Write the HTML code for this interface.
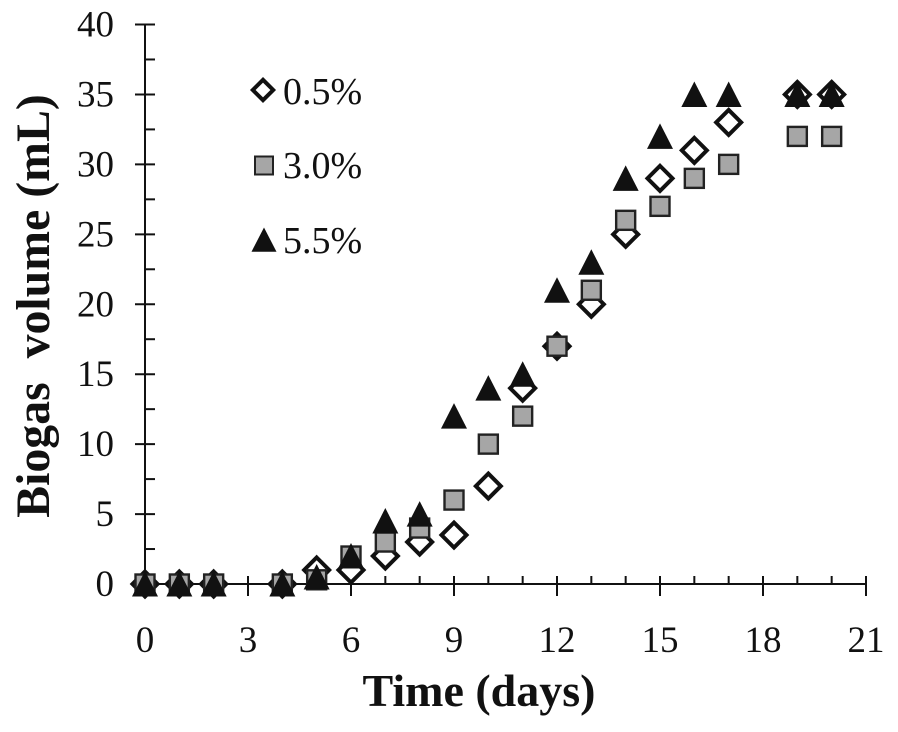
<!DOCTYPE html>
<html>
<head>
<meta charset="utf-8">
<style>
html,body{margin:0;padding:0;background:#fff;width:898px;height:732px;overflow:hidden}
svg{display:block}
text{font-family:"Liberation Serif",serif;fill:#111}
.tick{font-size:37px}
.xtitle{font-size:46px;font-weight:bold}
.ytitle{font-size:47.8px;font-weight:bold}
.leg{font-size:38px}
</style>
</head>
<body>
<svg id="chart" width="898" height="732" viewBox="0 0 898 732" xmlns="http://www.w3.org/2000/svg">
<g id="axes"></g>
<g id="marks"></g>
<text class="xtitle" x="479" y="706" text-anchor="middle">Time (days)</text>
<text class="ytitle" transform="translate(49,306) rotate(-90)" text-anchor="middle" xml:space="preserve">Biogas  volume (mL)</text>
<g>
<g>
<polygon points="263,79.8 273.2,90 263,100.2 252.8,90" fill="#fff" stroke="#111" stroke-width="4"/>
<text class="leg" x="283" y="104">0.5%</text>
</g>
<g>
<rect x="255" y="156.5" width="18" height="18" fill="#a6a6a6" stroke="#222" stroke-width="2"/>
<text class="leg" x="283" y="178">3.0%</text>
</g>
<g>
<polygon points="264,227.5 276.5,251.7 251.5,251.7" fill="#111"/>
<text class="leg" x="283" y="253">5.5%</text>
</g>
</g>
</svg>
<script>
const days = [0,1,2,4,5,6,7,8,9,10,11,12,13,14,15,16,17,19,20];
const series05 = [0,0,0,0,1,1,2,3,3.5,7,14,17,20,25,29,31,33,35,35];
const series30 = [0,0,0,0,0.3,2,3,4,6,10,12,17,21,26,27,29,30,32,32];
const series55 = [0,0,0,0,0.5,2,4.5,5,12,14,15,21,23,29,32,35,35,35,35];
const xTickLabels = [0,3,6,9,12,15,18,21];
const yTickLabels = [0,5,10,15,20,25,30,35,40];

const NS = 'http://www.w3.org/2000/svg';
const INK = '#111';
function xs(v){ return 145 + v * (866 - 145) / 21; }
function ys(v){ return 584 - v * (584 - 24.5) / 40; }
function make(parent, tag, attrs){
  const el = document.createElementNS(NS, tag);
  for (const k in attrs) el.setAttribute(k, attrs[k]);
  parent.appendChild(el);
  return el;
}
const axes = document.getElementById('axes');
const marks = document.getElementById('marks');

const xAxisLine = make(axes, 'line', {x1:xs(0), x2:xs(21), y1:ys(0), y2:ys(0), stroke:INK, 'stroke-width':2});


const yAxisLine = make(axes, 'line', {x1:xs(0), x2:xs(0), y1:ys(0), y2:ys(40), stroke:INK, 'stroke-width':2});



for (let d = 0; d <= 21; d++) {
  if (d % 3 === 0) continue;
  const t = make(axes, 'line', {x1:xs(d), x2:xs(d), y1:ys(0)-8, y2:ys(0), stroke:INK, 'stroke-width':2});
  
  
}
xTickLabels.forEach(function(v){
  const t = make(axes, 'line', {x1:xs(v), x2:xs(v), y1:ys(0)-8, y2:ys(0)+12, stroke:INK, 'stroke-width':2});
  
  
  const l = make(axes, 'text', {x:xs(v), y:652, 'text-anchor':'middle', class:'tick'});
  l.textContent = v;
  
  
});
yTickLabels.forEach(function(v){
  const t = make(axes, 'line', {x1:xs(0)-10, x2:xs(0)+10, y1:ys(v), y2:ys(v), stroke:INK, 'stroke-width':2});
  
  
  const l = make(axes, 'text', {x:114, y:ys(v)+12, 'text-anchor':'end', class:'tick'});
  l.textContent = v;
  
  
  if (v < 40) {
    const m = make(axes, 'line', {x1:xs(0), x2:xs(0)+10, y1:ys(v+2.5), y2:ys(v+2.5), stroke:INK, 'stroke-width':2});
    
    
  }
});

days.forEach(function(d, i){
  const x = xs(d), y = ys(series05[i]);
  const p = make(marks, 'polygon', {points:[x,y-12.5,x+12.5,y,x,y+12.5,x-12.5,y].join(','), fill:'#fff', stroke:INK, 'stroke-width':4});
  
  
});
days.forEach(function(d, i){
  const x = xs(d), y = ys(series30[i]);
  const r = make(marks, 'rect', {x:x-9.5, y:y-9.5, width:19, height:19, fill:'#a6a6a6', stroke:'#222', 'stroke-width':2.4});
  
  
});
days.forEach(function(d, i){
  const x = xs(d), y = ys(series55[i]);
  const p = make(marks, 'polygon', {points:[x,y-13,x+13,y+12.5,x-13,y+12.5].join(','), fill:INK});
  
  
});
</script>
</body>
</html>
